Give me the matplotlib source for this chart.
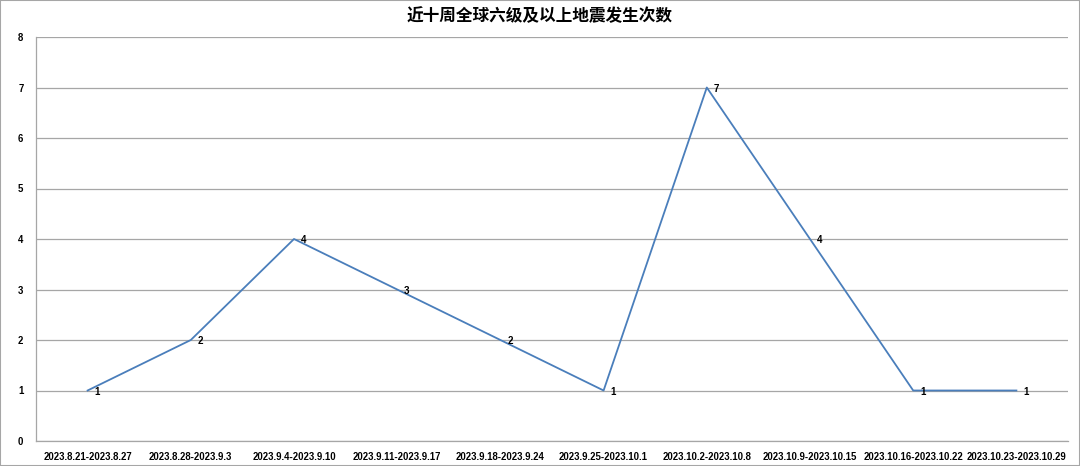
import matplotlib
matplotlib.use("Agg")
import matplotlib.pyplot as plt
from matplotlib.patches import Rectangle

categories = ["2023.8.21-2023.8.27", "2023.8.28-2023.9.3", "2023.9.4-2023.9.10",
              "2023.9.11-2023.9.17", "2023.9.18-2023.9.24", "2023.9.25-2023.10.1",
              "2023.10.2-2023.10.8", "2023.10.9-2023.10.15", "2023.10.16-2023.10.22",
              "2023.10.23-2023.10.29"]
counts = [1, 2, 4, 3, 2, 1, 7, 4, 1, 1]
title = "近十周全球六级及以上地震发生次数"

fig = plt.figure(figsize=(10.8, 4.66), dpi=100)
fig.patch.set_facecolor("white")
fig.add_artist(Rectangle((0, 0), 1, 1, transform=fig.transFigure, fill=False,
                         edgecolor="#a6a6a6", linewidth=1.5))
ax = fig.add_axes([36/1080, 25/466, 1032/1080, 404/466])

x = list(range(len(categories)))
ax.plot(x, counts, color="#4a7ebb", linewidth=1.3, zorder=3)
for xi, v in zip(x, counts):
    ax.annotate(str(v), (xi, v), xytext=(5, -1), textcoords="offset points",
                ha="left", va="center", fontsize=7, fontweight="bold",
                family="Liberation Sans", color="black", zorder=4)

ax.set_xlim(-0.5, len(categories) - 0.5)
ax.set_ylim(0, 8)
ax.set_yticks(range(0, 9))
ax.set_xticks(x)
ax.set_xticklabels(categories)
for lbl in ax.get_xticklabels() + ax.get_yticklabels():
    lbl.set_fontfamily("Liberation Sans")
    lbl.set_fontweight("bold")
    lbl.set_fontsize(6.9)
ax.tick_params(axis="x", length=0, pad=8)
ax.tick_params(axis="y", length=0, pad=9)
ax.grid(axis="y", color="#a6a6a6", linewidth=0.9)
ax.set_axisbelow(True)
for s in ["top", "right"]:
    ax.spines[s].set_visible(False)
for s in ["left", "bottom"]:
    ax.spines[s].set_color("#a6a6a6")
    ax.spines[s].set_linewidth(0.9)

fig.text(0.5, 0.966, title, ha="center", va="center", fontsize=12,
         fontweight="bold", family=["Noto Sans CJK SC", "DejaVu Sans"])

fig.savefig("out.png", dpi=100)
